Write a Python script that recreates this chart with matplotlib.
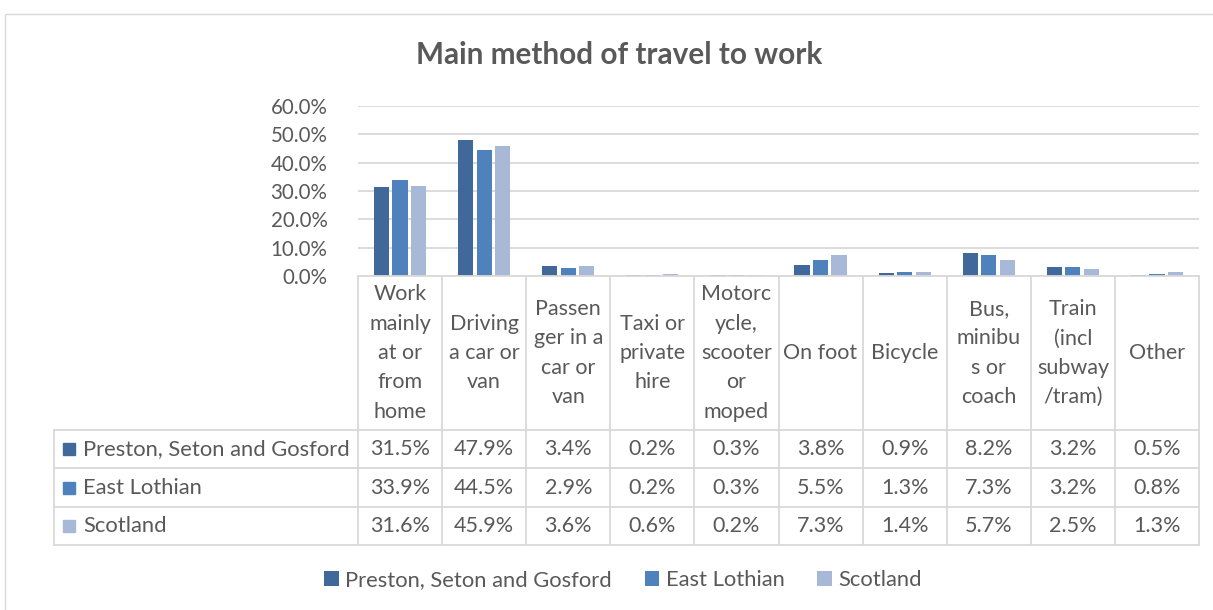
import matplotlib
matplotlib.use("Agg")
import matplotlib.pyplot as plt
from matplotlib.patches import Rectangle, Patch
import numpy as np

# ---------------- data ----------------
categories = ["Work\nmainly\nat or\nfrom\nhome", "Driving\na car or\nvan",
              "Passen\nger in a\ncar or\nvan", "Taxi or\nprivate\nhire",
              "Motorc\nycle,\nscooter\nor\nmoped", "On foot", "Bicycle",
              "Bus,\nminibu\ns or\ncoach", "Train\n(incl\nsubway\n/tram)", "Other"]
series_names = ["Preston, Seton and Gosford", "East Lothian", "Scotland"]
preston = [31.5, 47.9, 3.4, 0.2, 0.3, 3.8, 0.9, 8.2, 3.2, 0.5]
east_lothian = [33.9, 44.5, 2.9, 0.2, 0.3, 5.5, 1.3, 7.3, 3.2, 0.8]
scotland = [31.6, 45.9, 3.6, 0.6, 0.2, 7.3, 1.4, 5.7, 2.5, 1.3]
yticks = [0, 10, 20, 30, 40, 50, 60]
title = "Main method of travel to work"

series = [preston, east_lothian, scotland]
colors = ["#41689B", "#4F81BD", "#A8B9D8"]
text_color = "#595959"
grid_color = "#D9D9D9"
FONT = "Lato"
plt.rcParams['font.family'] = [FONT, 'DejaVu Sans']

W, H = 1213, 610
def fx(px): return px / W
def fy(py): return 1 - py / H

fig = plt.figure(figsize=(W / 100, H / 100), dpi=100)

# outer chart frame
fig.patches.append(Rectangle((fx(5), -0.5), 2, fy(14) + 0.5, transform=fig.transFigure,
                             fill=False, edgecolor=grid_color, lw=1))

# ---------------- bar axes ----------------
left_px, right_px = 358, 1199
ax = fig.add_axes([fx(left_px), fy(276), fx(right_px) - fx(left_px), (276 - 106) / H])
x = np.arange(len(categories))
for i, vals in enumerate(series):
    ax.bar(x + (i - 1) * 0.22, vals, width=0.18, color=colors[i], zorder=3)
ax.set_xlim(-0.5, len(categories) - 0.5)
ax.set_ylim(0, 60)
ax.set_yticks(yticks)
ax.set_yticklabels([f"{v:.1f}%" for v in yticks])
ax.set_xticks([])
ax.grid(axis='y', color=grid_color, lw=1.3, zorder=0)
for s in ax.spines.values():
    s.set_visible(False)
ax.tick_params(axis='y', length=0, pad=22, labelsize=14.8, labelcolor=text_color)

# ---------------- data table ----------------
TFS = 15.5
colw = (right_px - left_px) / len(categories)
tab = fig.add_axes([fx(left_px), fy(545), fx(right_px) - fx(left_px), (545 - 276) / H])
tab.set_xlim(-0.5, len(categories) - 0.5)
tab.set_ylim(269, 0)
tab.axis('off')
header_h = 154
row_bounds = [154, 192, 231, 269]
x_left = -0.5 - (left_px - 54) / colw

line_kw = dict(color=grid_color, lw=1.3, clip_on=False)
for k in range(len(categories) + 1):
    tab.plot([k - 0.5, k - 0.5], [0, 269], **line_kw)
tab.plot([x_left, x_left], [header_h, 269], **line_kw)
tab.plot([-0.5, len(categories) - 0.5], [0, 0], **line_kw)
for yb in row_bounds:
    tab.plot([x_left, len(categories) - 0.5], [yb, yb], **line_kw)

for k, cat in enumerate(categories):
    tab.text(k, header_h / 2, cat, ha='center', va='center', fontsize=TFS,
             color=text_color, linespacing=1.58)

for i, vals in enumerate(series):
    yc = (row_bounds[i] + row_bounds[i + 1]) / 2
    for k, v in enumerate(vals):
        tab.text(k, yc, f"{v:.1f}%", ha='center', va='center', fontsize=TFS, color=text_color)
    tab.plot([x_left + (69 - 54) / colw], [yc], marker='s', ms=9, color=colors[i],
             clip_on=False, ls='none')
    tab.text(x_left + (83 - 54) / colw, yc, series_names[i], ha='left', va='center',
             fontsize=15.8, color=text_color)

# ---------------- title & legend ----------------
fig.text(fx(619), fy(55), title, ha='center', va='center', fontsize=21.4,
         fontweight='bold', color=text_color)
handles = [Patch(facecolor=c, edgecolor='none') for c in colors]
leg = fig.legend(handles, series_names, loc='center', bbox_to_anchor=(fx(623), fy(580)),
                 ncol=3, frameon=False, handlelength=0.65, handleheight=0.65,
                 handletextpad=0.3, columnspacing=1.5, fontsize=15.8, labelcolor=text_color)

fig.savefig("out.png", dpi=100)
